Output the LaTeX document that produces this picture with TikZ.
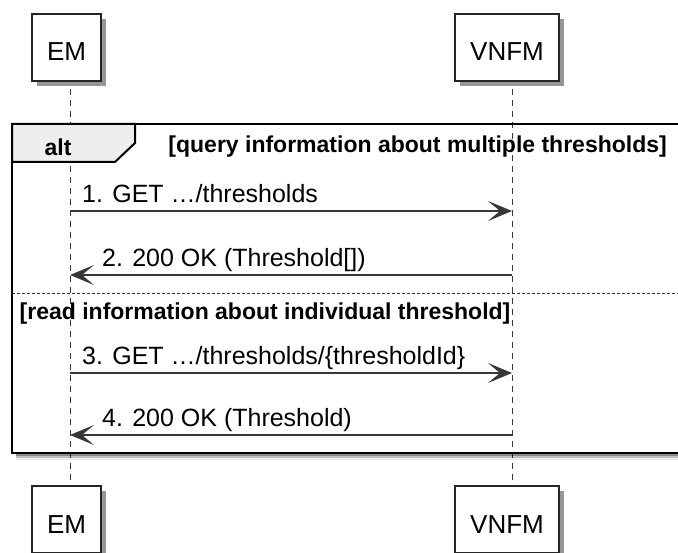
\documentclass[tikz,border=0pt]{standalone}
\usepackage{fontspec}
\setmainfont{Liberation Sans}
\usetikzlibrary{arrows.meta,shadows}
\definecolor{lineGray}{HTML}{383838}
\definecolor{tabGray}{HTML}{EEEEEE}

\begin{document}
\begin{tikzpicture}[x=1pt,y=-1pt,
    actor/.style={draw=black!85, line width=1.4pt, fill=white, minimum width=69pt, minimum height=67pt, inner sep=0pt,
      text height=27pt, text depth=0pt, font=\fontsize{26}{26}\selectfont,
      drop shadow={shadow xshift=5pt, shadow yshift=-5pt, fill=black!55, opacity=.75}},
    lifeline/.style={draw=lineGray, line width=1pt, dash pattern=on 6pt off 5pt},
    msg/.style={draw=lineGray, line width=1.3pt, -{Stealth[length=24pt,width=20pt,inset=12pt]}},
    msgtext/.style={anchor=base west, inner sep=0pt, font=\fontsize{25}{25}\selectfont},
    guard/.style={inner sep=0pt, font=\fontsize{23}{23}\selectfont\bfseries},
    ]
    \useasboundingbox (0,0) rectangle (678,553);
    \clip (0,0) rectangle (678,553);

    % Place nodes
    \node [actor, minimum width=69pt] (emT) at (66.5,47.5) {EM};
    \node [actor, minimum width=104pt] (vnfmT) at (507,47.5) {VNFM};
    \node [actor, minimum width=69pt] (emB) at (66.5,519.5) {EM};
    \node [actor, minimum width=104pt] (vnfmB) at (507,519.5) {VNFM};
    \coordinate (emX) at (70,0);
    \coordinate (vnfmX) at (512,0);

    % Lifelines
    \path [lifeline] ([yshift=-7pt]emT.south -| emX) -- (emB.north -| emX);
    \path [lifeline] ([yshift=-7pt]vnfmT.south -| vnfmX) -- (vnfmB.north -| vnfmX);

    % alt frame
    \foreach \o/\op in {1/.4,3/.3,5/.18,7/.08}
      \fill [black, opacity=\op] (16,453) rectangle (700,453+\o);
    \draw [line width=2.6pt] (12,124) rectangle (700,453);
    \draw [line width=2pt, fill=tabGray] (12,124) -- (135,124) -- (135,143) -- (115,162) -- (12,162) -- cycle;
    \node [guard, anchor=base] (alt) at (58,156) {alt};
    \node [guard, anchor=base east] (g1) at (667,153) {[query information about multiple thresholds]};
    \draw [black!80, line width=1pt, dash pattern=on 3pt off 2pt] (12,294) -- (700,294);
    \node [guard, anchor=base west] (g2) at (19.5,320) {[read information about individual threshold]};

    % Draw edges
    \coordinate (m1) at (0,211);
    \coordinate (m2) at (0,275);
    \coordinate (m3) at (0,373);
    \coordinate (m4) at (0,435);
    \node [msgtext] (t1) at (82,203) {1. GET …/thresholds};
    \path [msg] (emX |- m1) -- (vnfmX |- m1);
    \node [msgtext] (t2) at (102,267) {2. 200 OK (Threshold[])};
    \path [msg] (vnfmX |- m2) -- (emX |- m2);
    \node [msgtext] (t3) at (82,365) {3. GET …/thresholds/\{thresholdId\}};
    \path [msg] (emX |- m3) -- (vnfmX |- m3);
    \node [msgtext] (t4) at (102,427) {4. 200 OK (Threshold)};
    \path [msg] (vnfmX |- m4) -- (emX |- m4);
  \end{tikzpicture}
\end{document}
